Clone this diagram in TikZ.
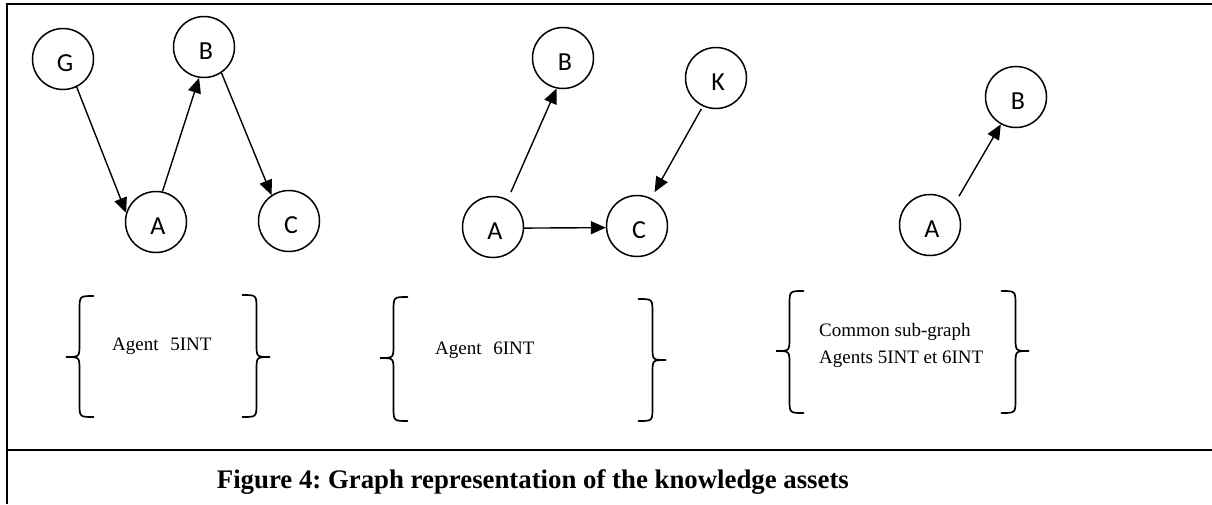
\documentclass[tikz,border=0pt]{standalone}
\usepackage{fontspec}
\setmainfont{Liberation Serif}
\newfontfamily\lblfont{Carlito}
\usetikzlibrary{arrows.meta}
\frenchspacing

% curly braces drawn as paths: tip x, top y, middle y, bottom y
\newcommand\drawLeftBrace[4]{%
  \draw[brace] (#1+27.5,#2) .. controls (#1+13.5,#2) .. (#1+13.5,#2+14)
    -- (#1+13.5,#3-13) .. controls (#1+13.5,#3) .. (#1,#3)
    .. controls (#1+13.5,#3) .. (#1+13.5,#3+13)
    -- (#1+13.5,#4-14) .. controls (#1+13.5,#4) .. (#1+27.5,#4);}
\newcommand\drawRightBrace[4]{%
  \draw[brace] (#1-27.5,#2) .. controls (#1-13.5,#2) .. (#1-13.5,#2+14)
    -- (#1-13.5,#3-13) .. controls (#1-13.5,#3) .. (#1,#3)
    .. controls (#1-13.5,#3) .. (#1-13.5,#3+13)
    -- (#1-13.5,#4-14) .. controls (#1-13.5,#4) .. (#1-27.5,#4);}

\begin{document}
\begin{tikzpicture}[x=1pt,y=-1pt,
  letter/.style={font=\lblfont\fontsize{26}{30}\selectfont,inner sep=0pt,xshift=2pt,yshift=-4pt},
  vertex/.style={circle,draw,line width=1.5pt,minimum size=61pt,inner sep=0pt,
    label={[letter]center:#1}},
  edge/.style={line width=1.4pt,-{Triangle[length=15pt,width=13pt]}},
  brace/.style={line width=1.7pt,line cap=round},
  frame/.style={line width=2.2pt},
  agent/.style={font=\fontsize{19}{27}\selectfont,inner sep=0pt,anchor=base west},
  caption/.style={font=\bfseries\fontsize{26.8}{32}\selectfont,inner sep=0pt,anchor=base west}]
\useasboundingbox (0,0) rectangle (1212,504);

% frame and separator
\draw[frame] (7,504) -- (7,4) -- (1212,4);
\draw[frame] (7,450) -- (1212,450);

% graph of agent 5INT
\node[vertex=G] (G)  at (63,59)   {};
\node[vertex=B] (B1) at (204,47)  {};
\node[vertex=A] (A1) at (156,222) {};
\node[vertex=C] (C1) at (289,221) {};
\draw[edge] (G.-64) -- (A1.163);
\draw[edge] (A1.78) -- (B1.-99.5);
\draw[edge] (B1.-56) -- (C1.124.6);

% graph of agent 6INT
\node[vertex=B] (B2) at (563,58)  {};
\node[vertex=K] (K)  at (716,78)  {};
\node[vertex=A] (A2) at (493,227) {};
\node[vertex=C] (C2) at (637,226) {};
\draw[edge,shorten <=8pt] (A2.62.7) -- (B2.-102);
\draw[edge] (A2.-2) -- (C2.183);
\draw[edge,shorten <=3pt,shorten >=7pt] (K.245.4) -- (C2.63.3);

% common sub-graph
\node[vertex=B] (B3) at (1016,97)  {};
\node[vertex=A] (A3) at (930,225)  {};
\draw[edge,shorten <=10pt] (A3.40.3) -- (B3.241.8);

% braces and their texts
\drawLeftBrace{66}{296}{357}{417}
\drawRightBrace{270}{295}{357}{417}
\node[agent] (t5) at (112,350.7) {Agent\hspace{0.62em}5INT};

\drawLeftBrace{380}{297}{358}{421}
\drawRightBrace{666}{299}{360}{421}
\node[agent] (t6) at (435,354) {Agent\hspace{0.62em}6INT};

\drawLeftBrace{776}{291}{351}{413}
\drawRightBrace{1029}{291}{351}{413}
\node[agent] (tc1) at (819,336) {Common sub-graph};
\node[agent] (tc2) at (819,363.3) {Agents 5INT et 6INT};

% caption
\node[caption] (cap) at (216.7,488.3) {Figure 4: Graph representation of the knowledge assets};
\end{tikzpicture}
\end{document}
